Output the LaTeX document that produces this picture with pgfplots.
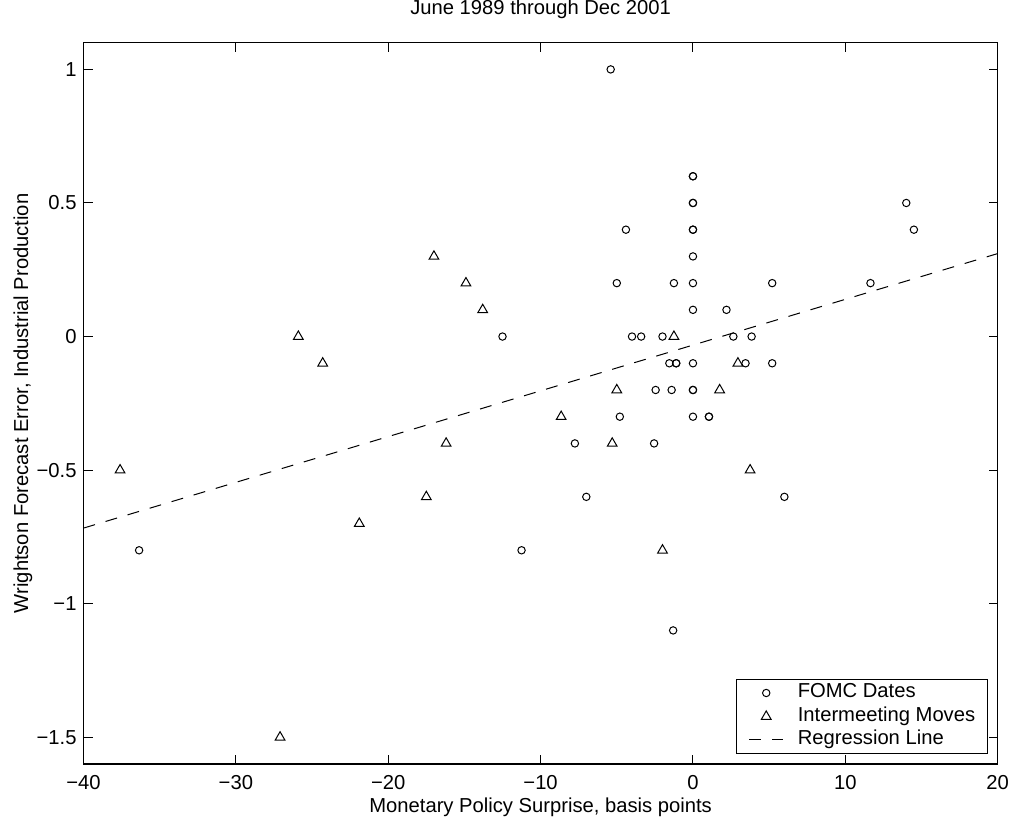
\documentclass[border=0pt]{standalone}
\usepackage{fontspec}
\setmainfont{Liberation Sans}
\usepackage{pgfplots}
\pgfplotsset{compat=1.18}

\pgfplotstableread{
x y
-5.4 1.0
0 0.6
0 0.6
0 0.5
0 0.5
0 0.4
0 0.4
-4.4 0.4
14.5 0.4
14.0 0.5
0 0.3
0 0.2
-5.0 0.2
-1.25 0.2
5.2 0.2
11.65 0.2
0 0.1
2.2 0.1
-12.5 0
-4.0 0
-3.4 0
-2.0 0
2.65 0
3.85 0
-1.55 -0.1
-1.1 -0.1
-1.1 -0.1
0 -0.1
3.45 -0.1
5.2 -0.1
-2.45 -0.2
-1.4 -0.2
0 -0.2
0 -0.2
-4.8 -0.3
0 -0.3
1.05 -0.3
1.05 -0.3
-7.75 -0.4
-2.55 -0.4
-7.0 -0.6
6.0 -0.6
-36.35 -0.8
-11.25 -0.8
-1.3 -1.1
}\fomc

\pgfplotstableread{
x y
-37.6 -0.5
-27.1 -1.5
-25.9 0
-24.3 -0.1
-21.9 -0.7
-17.5 -0.6
-17.0 0.3
-16.2 -0.4
-14.9 0.2
-13.8 0.1
-8.65 -0.3
-5.3 -0.4
-5.0 -0.2
-2.0 -0.8
-1.25 0
1.75 -0.2
2.95 -0.1
3.75 -0.5
}\intermeeting

\begin{document}
\begin{tikzpicture}
\useasboundingbox (-41.75pt,-26.5pt) rectangle (463.75pt,382pt);
\begin{axis}[at={(0,0)}, anchor=south west, scale only axis,
  width=457.1pt, height=360.65pt,
  font=\fontsize{10.1}{12}\selectfont,
  xmin=-40, xmax=20, ymin=-1.6, ymax=1.1,
  xtick={-40,-30,-20,-10,0,10,20},
  xticklabels={−40,−30,−20,−10,0,10,20},
  ytick={-1.5,-1,-0.5,0,0.5,1},
  yticklabels={−1.5,−1,−0.5,0,0.5,1},
  tick align=inside, major tick length=4.6pt,
  every tick/.style={black, line width=0.5pt},
  axis line style={line width=0.6pt},
  xticklabel style={anchor=base, inner sep=0pt, yshift=-13pt},
  yticklabel style={anchor=east, inner sep=0pt, xshift=-3.3pt},
  title={June 1989 through Dec 2001},
  title style={at={(axis description cs:0.5,1.0222)}, anchor=base, inner sep=0pt},
  xlabel={Monetary Policy Surprise, basis points},
  xlabel style={at={(axis description cs:0.5,-0.0666)}, anchor=base, inner sep=0pt},
  ylabel={Wrightson Forecast Error, Industrial Production},
  ylabel style={at={(axis description cs:-0.0607,0.5)}, anchor=base, inner sep=0pt},
  legend style={at={(axis description cs:1,0)}, anchor=south east,
    xshift=-5pt, yshift=5pt, draw=black, line width=0.5pt,
    inner xsep=6pt, inner ysep=2.25pt, row sep=2.75pt, column sep=7pt,
    nodes={inner sep=0pt, text height=7pt, text depth=2pt},
    font=\fontsize{10.1}{12}\selectfont},
  legend cell align=left,
]
\addplot[only marks, mark=o, mark size=1.85pt, mark options={line width=0.5pt}] table[x=x, y=y] {\fomc};
\addplot[only marks, mark=triangle, mark size=2.8pt, mark options={line width=0.5pt}] table[x=x, y=y] {\intermeeting};
\addplot[black, line width=0.5pt, dash pattern=on 6pt off 5.5pt, no marks] coordinates {(-40,-0.717) (20,0.3106)};
\legend{FOMC Dates, Intermeeting Moves, Regression Line}
\end{axis}
\end{tikzpicture}
\end{document}
